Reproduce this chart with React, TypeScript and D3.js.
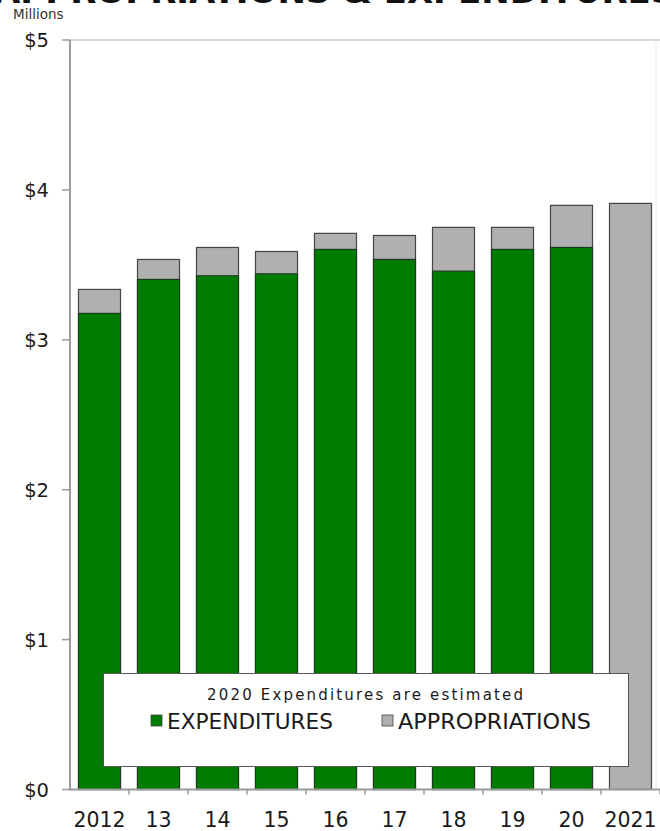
import React from "react";
import * as d3 from "d3";

const categories = ["2012", "13", "14", "15", "16", "17", "18", "19", "20", "2021"];
const appropriations = [3.336, 3.536, 3.616, 3.589, 3.71, 3.696, 3.75, 3.75, 3.897, 3.91];
const expenditures: (number | null)[] = [3.176, 3.403, 3.427, 3.44, 3.603, 3.536, 3.458, 3.603, 3.616, null];
const yTicks = [0, 1, 2, 3, 4, 5];

const W = 660;
const H = 831;
const FONT = "DejaVu Sans, Verdana, sans-serif";

export default function App() {
  const x = d3.scaleBand<string>().domain(categories).range([70, 660]).paddingInner(0.288).paddingOuter(0.144);
  const y = d3.scaleLinear().domain([0, 5]).range([789.5, 40]);
  const step = x.step();

  return (
    <div style={{ position: "absolute", left: 0, top: 0 }}>
      <svg width={W} height={H} style={{ display: "block", background: "#fff" }}>
        {/* cropped title */}
        <text x={-6} y={3} fontFamily={FONT} fontWeight="bold" fontSize={34} fill="#111">
          APPROPRIATIONS &amp; EXPENDITURES
        </text>
        <text x={13} y={19} fontFamily={FONT} fontSize={13.5} fill="#333">Millions</text>

        {/* plot frame */}
        <line x1={70} x2={660} y1={y(5)} y2={y(5)} stroke="#d9d9d9" strokeWidth={2} />
        <line x1={656} x2={656} y1={y(5)} y2={y(0)} stroke="#efefef" strokeWidth={1} />

        {/* bars */}
        {categories.map((c, i) => (
          <g key={c}>
            <rect
              x={x(c)}
              y={y(appropriations[i])}
              width={x.bandwidth()}
              height={y(0) - y(appropriations[i])}
              fill="#b0b0b0"
              stroke="#444"
              strokeWidth={1.2}
            />
            {expenditures[i] != null && (
              <rect
                x={x(c)}
                y={y(expenditures[i] as number)}
                width={x.bandwidth()}
                height={y(0) - y(expenditures[i] as number)}
                fill="#007d00"
                stroke="#1e3a1e"
                strokeWidth={1.2}
              />
            )}
          </g>
        ))}

        {/* y axis */}
        <line x1={70} x2={70} y1={y(5)} y2={y(0) + 1} stroke="#9a9a9a" strokeWidth={2} />
        {yTicks.map((t) => (
          <g key={t}>
            <line x1={62} x2={70} y1={y(t)} y2={y(t)} stroke="#9a9a9a" strokeWidth={1.5} />
            <text x={49} y={y(t)} dy="0.36em" textAnchor="end" fontFamily={FONT} fontSize={19.5} fill="#1a1a1a">
              {`$${t}`}
            </text>
          </g>
        ))}

        {/* x axis */}
        <line x1={70} x2={660} y1={y(0)} y2={y(0)} stroke="#9a9a9a" strokeWidth={2} />
        {categories.map((c, i) => (
          <g key={"t" + c}>
            <line x1={70 + step * (i + 1)} x2={70 + step * (i + 1)} y1={y(0)} y2={y(0) + 5} stroke="#9a9a9a" strokeWidth={1.5} />
            <text x={(x(c) as number) + x.bandwidth() / 2} y={827} textAnchor="middle" fontFamily={FONT} fontSize={20.5} fill="#1a1a1a">
              {c}
            </text>
          </g>
        ))}

        {/* legend */}
        <rect x={103.5} y={673.5} width={525} height={93} fill="#fff" stroke="#555" strokeWidth={1} />
        <text x={207} y={700} fontFamily={FONT} fontSize={15} fill="#1a1a1a" textLength={316} lengthAdjust="spacing">
          2020 Expenditures are estimated
        </text>
        <rect x={151} y={715} width={11} height={11} fill="#007d00" stroke="#444" strokeWidth={0.8} />
        <text x={167} y={728.5} fontFamily={FONT} fontSize={20.5} fill="#1a1a1a" textLength={166} lengthAdjust="spacingAndGlyphs">
          EXPENDITURES
        </text>
        <rect x={382} y={715} width={11} height={11} fill="#b0b0b0" stroke="#444" strokeWidth={0.8} />
        <text x={398} y={728.5} fontFamily={FONT} fontSize={20.5} fill="#1a1a1a" textLength={193} lengthAdjust="spacingAndGlyphs">
          APPROPRIATIONS
        </text>
      </svg>
    </div>
  );
}
